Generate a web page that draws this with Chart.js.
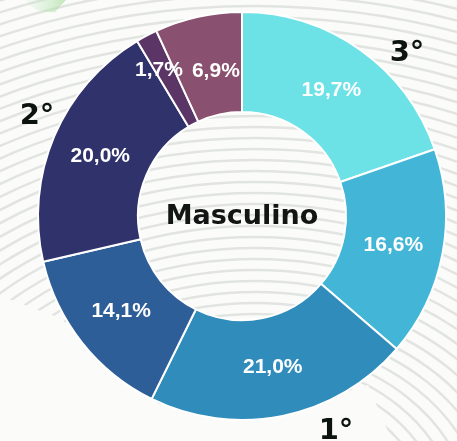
<!DOCTYPE html>
<html>
<head>
<meta charset="utf-8">
<script src="https://cdn.jsdelivr.net/npm/chart.js@4"></script>
<style>
  html, body { margin: 0; padding: 0; background: #fbfcfa; }
  #wrap { position: relative; width: 457px; height: 441px; }
</style>
</head>
<body>
<div id="wrap"><canvas id="chart" width="457" height="441"></canvas></div>
<script>
  // Shares of the "Masculino" group, clockwise from 12 o'clock
  const categories = ['A', 'B', 'C', 'D', 'E', 'F', 'G'];
  const shares = [19.7, 16.6, 21.0, 14.1, 20.0, 1.7, 6.9];
  const sliceColors = ['#6ce2e7', '#43b6d7', '#2f8cbb', '#2e5e98', '#30336b', '#5a3566', '#8a506f'];
  // Ordinal tags placed next to slices
  const rankLabels = ['3°', '1°', '2°'];
  const centerText = 'Masculino';

  const fmt = (v) => v.toFixed(1).replace('.', ',') + '%';

  // Light curvy background lines + small green blob
  const backdrop = {
    id: 'backdrop',
    beforeDraw(chart) {
      const ctx = chart.ctx;
      ctx.save();
      ctx.fillStyle = '#fbfcfa';
      ctx.fillRect(0, 0, chart.width, chart.height);

      // keep the lower-left corner and bottom middle clear
      ctx.beginPath();
      ctx.moveTo(0, 0);
      ctx.lineTo(457, 0);
      ctx.lineTo(457, 441);
      ctx.lineTo(392, 441);
      ctx.lineTo(368, 385);
      ctx.lineTo(242, 425);
      ctx.lineTo(160, 405);
      ctx.lineTo(60, 318);
      ctx.lineTo(0, 296);
      ctx.closePath();
      ctx.clip();

      ctx.strokeStyle = '#e1e4e1';
      ctx.lineWidth = 2.5;
      for (let r = 140; r < 620; r += 11) {
        ctx.beginPath();
        ctx.ellipse(255, 520, r * 1.25, r, 0, Math.PI, 2 * Math.PI);
        ctx.stroke();
      }
      ctx.restore();

      ctx.save();
      const g = ctx.createLinearGradient(20, 0, 70, 10);
      g.addColorStop(0, 'rgba(200,235,200,0)');
      g.addColorStop(1, 'rgba(170,220,160,0.8)');
      ctx.fillStyle = g;
      ctx.beginPath();
      ctx.moveTo(25, 0);
      ctx.lineTo(66, 0);
      ctx.lineTo(55, 12);
      ctx.quadraticCurveTo(35, 14, 25, 0);
      ctx.fill();
      ctx.restore();
    },
  };

  // Percent labels in the ring, center title and rank tags
  const labels = {
    id: 'labels',
    afterDatasetsDraw(chart) {
      const ctx = chart.ctx;
      const meta = chart.getDatasetMeta(0);
      // small nudges for the two narrow top slices
      const nudge = [[0, 0], [0, 0], [0, 0], [0, 0], [0, 0], [-11, -10], [7, 6]];
      ctx.save();
      ctx.textAlign = 'center';
      ctx.textBaseline = 'middle';
      ctx.fillStyle = '#ffffff';
      ctx.font = 'bold 21px "Liberation Sans", Arial, sans-serif';
      meta.data.forEach((arc, i) => {
        const p = arc.getCenterPoint();
        ctx.fillText(fmt(shares[i]), p.x + nudge[i][0], p.y + nudge[i][1]);
      });

      const first = meta.data[0];
      ctx.fillStyle = '#111513';
      ctx.font = 'bold 27px "DejaVu Sans", sans-serif';
      ctx.fillText(centerText, first.x, first.y + 1);

      ctx.fillStyle = '#0d1410';
      ctx.font = 'bold 29px "DejaVu Sans", sans-serif';
      const offsets = [[165, -163], [94, 215], [-205, -100]];
      rankLabels.forEach((t, k) => {
        ctx.fillText(t, first.x + offsets[k][0], first.y + offsets[k][1]);
      });
      ctx.restore();
    },
  };

  new Chart(document.getElementById('chart'), {
    type: 'doughnut',
    data: {
      labels: categories,
      datasets: [
        {
          data: shares,
          backgroundColor: sliceColors,
          borderColor: '#ffffff',
          borderWidth: 2,
        },
      ],
    },
    options: {
      responsive: false,
      animation: false,
      cutout: '51%',
      layout: {
        padding: { left: 37, right: 10, top: 11, bottom: 20 },
      },
      plugins: {
        legend: { display: false },
        tooltip: { enabled: false },
      },
    },
    plugins: [backdrop, labels],
  });
</script>
</body>
</html>
